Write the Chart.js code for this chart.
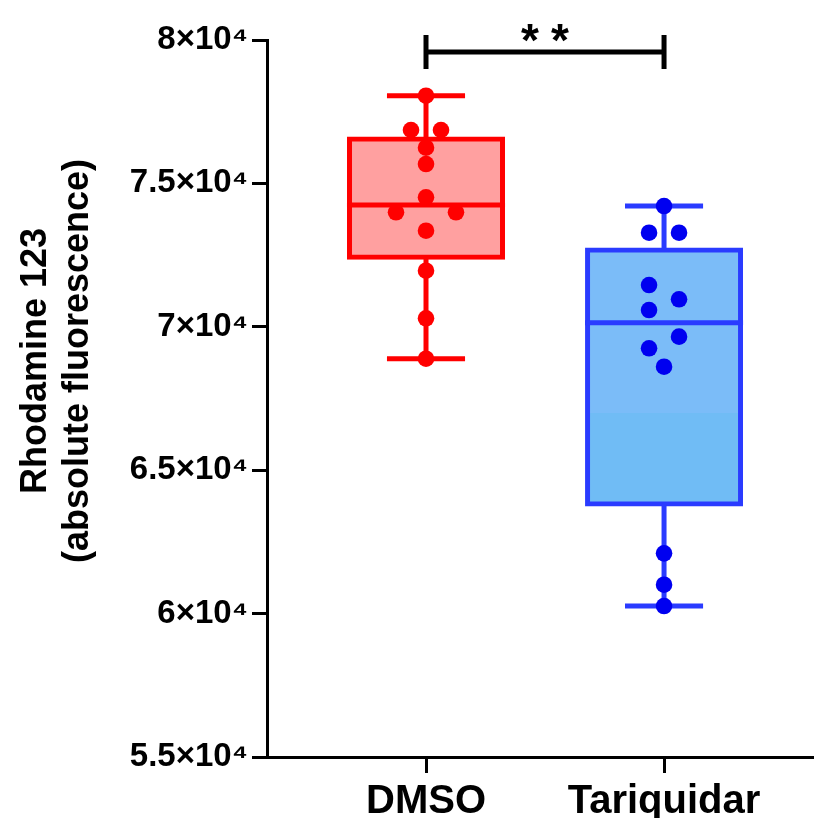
<!DOCTYPE html>
<html>
<head>
<meta charset="utf-8">
<script src="https://cdn.jsdelivr.net/npm/chart.js@4.4.1/dist/chart.umd.min.js"></script>
<style>
  html, body { margin: 0; padding: 0; background: #fff; }
  #chart { display: block; }
</style>
</head>
<body>
<canvas id="chart" width="814" height="818"></canvas>
<script>
// groups on the x axis (placed at x = 1, 2)
const groups = ['DMSO', 'Tariquidar'];

// individual points
const dmsoValues = [78058, 76862, 76862, 76245, 75676, 74514, 73992, 73992, 73350, 71956, 70296, 68887];
const tariquidarValues = [74211, 73280, 73280, 71457, 70958, 70585, 69656, 69250, 68608, 62101, 61007, 60264];

// horizontal jitter of each point, in steps
const dmsoJitter = [0, -1, 1, 0, 0, 0, -2, 2, 0, 0, 0, 0];
const tariquidarJitter = [0, -1, 1, -1, 1, -1, 1, -1, 0, 0, 0, 0];

// box statistics per group
const whiskerLow = [68887, 60264];
const quartile1 = [72422, 63820];
const medians = [74247, 70142];
const quartile3 = [76548, 72677];
const whiskerHigh = [78058, 74211];

// significance bracket
const sigLabel = '**';
const sigLine = 79582;
const sigCapTop = 80174;
const sigCapBottom = 78989;

// y axis
const yMin = 55000;
const yMax = 80000;
const yStep = 5000;
const yTitle = ['Rhodamine 123', '(absolute fluorescence)'];

const FONT = "'Liberation Sans', Arial, Helvetica, sans-serif";
const JITTER_STEP = 0.063;
const CAP_HALF = 0.164;
const BOX_HALF = 0.332;

const redLine = '#ff0000';
const blueLine = '#2a3bff';
const lineColors = [redLine, blueLine];

const toPoints = (vals, jit, cx) => vals.map((v, i) => ({ x: cx + jit[i] * JITTER_STEP, y: v }));

const whiskerPath = (i) => {
    const cx = i + 1;
    return [
        { x: cx - CAP_HALF, y: whiskerLow[i] }, { x: cx + CAP_HALF, y: whiskerLow[i] }, { x: cx, y: null },
        { x: cx, y: whiskerLow[i] }, { x: cx, y: quartile1[i] }, { x: cx, y: null },
        { x: cx, y: quartile3[i] }, { x: cx, y: whiskerHigh[i] }, { x: cx, y: null },
        { x: cx - CAP_HALF, y: whiskerHigh[i] }, { x: cx + CAP_HALF, y: whiskerHigh[i] }, { x: cx, y: null },
        { x: cx - BOX_HALF, y: medians[i] }, { x: cx + BOX_HALF, y: medians[i] }
    ];
};

const bracketPath = [
    { x: 1, y: sigCapTop }, { x: 1, y: sigCapBottom }, { x: 1, y: null },
    { x: 1, y: sigLine }, { x: 2, y: sigLine }, { x: 2, y: null },
    { x: 2, y: sigCapTop }, { x: 2, y: sigCapBottom }
];

const boxFill = (ctx) => {
    if (ctx.dataIndex === 0) return '#ffa0a0';
    const chart = ctx.chart;
    const area = chart.chartArea;
    if (!area) return '#78bbf7';
    const py = chart.scales.y.getPixelForValue(67000);
    const s = Math.min(Math.max((py - area.top) / (area.bottom - area.top), 0), 1);
    const g = chart.ctx.createLinearGradient(0, area.top, 0, area.bottom);
    g.addColorStop(0, '#7bbcf8');
    g.addColorStop(s, '#7bbcf8');
    g.addColorStop(s, '#70bcf5');
    g.addColorStop(1, '#70bcf5');
    return g;
};

const extraText = {
    id: 'extraText',
    afterDraw(chart) {
        const { ctx, scales } = chart;
        ctx.save();
        ctx.fillStyle = '#000';
        // y title
        ctx.font = `bold 36px ${FONT}`;
        ctx.textAlign = 'center';
        ctx.textBaseline = 'alphabetic';
        ctx.translate(0, 361);
        ctx.rotate(-Math.PI / 2);
        ctx.fillText(yTitle[0], 0, 46);
        ctx.fillText(yTitle[1], 0, 88);
        ctx.restore();

        // stars
        ctx.save();
        ctx.fillStyle = '#000';
        ctx.font = `bold 46px ${FONT}`;
        ctx.textAlign = 'center';
        ctx.textBaseline = 'alphabetic';
        const sx = (scales.x.getPixelForValue(1) + scales.x.getPixelForValue(2)) / 2;
        const gap = 15;
        ctx.fillText(sigLabel[0], sx - gap, 56);
        ctx.fillText(sigLabel[1], sx + gap, 56);
        ctx.restore();
    }
};

new Chart(document.getElementById('chart'), {
    type: 'scatter',
    data: {
        datasets: [
            {
                type: 'scatter',
                data: toPoints(dmsoValues, dmsoJitter, 1),
                backgroundColor: '#ff0000',
                borderWidth: 0,
                pointRadius: 8.3,
                order: 0
            },
            {
                type: 'scatter',
                data: toPoints(tariquidarValues, tariquidarJitter, 2),
                backgroundColor: '#0000f0',
                borderWidth: 0,
                pointRadius: 8.3,
                order: 0
            },
            ...groups.map((g, i) => ({
                type: 'line',
                data: whiskerPath(i),
                borderColor: lineColors[i],
                borderWidth: 5,
                pointRadius: 0,
                spanGaps: false,
                fill: false,
                borderCapStyle: 'butt',
                order: 1
            })),
            {
                type: 'line',
                data: bracketPath,
                borderColor: '#000',
                borderWidth: 5,
                pointRadius: 0,
                spanGaps: false,
                fill: false,
                clip: false,
                order: 1
            },
            {
                type: 'bar',
                data: groups.map((g, i) => ({ x: i + 1, y: [quartile1[i], quartile3[i]] })),
                backgroundColor: boxFill,
                borderColor: lineColors,
                borderWidth: 5,
                borderSkipped: false,
                inflateAmount: 2.5,
                barThickness: 153,
                order: 2
            }
        ]
    },
    options: {
        responsive: false,
        animation: false,
        events: [],
        layout: { autoPadding: false, padding: { left: 0, top: 40, right: 0, bottom: 0 } },
        plugins: { legend: { display: false }, tooltip: { enabled: false } },
        scales: {
            x: {
                type: 'linear',
                min: 0.332,
                max: 2.63,
                offset: false,
                afterBuildTicks: (axis) => { axis.ticks = groups.map((g, i) => ({ value: i + 1 })); },
                afterFit: (scale) => {
                    scale.height = 61;
                    scale.paddingLeft = 0;
                    scale.paddingRight = 0;
                },
                ticks: {
                    callback: (v) => groups[Math.round(v) - 1],
                    color: '#000',
                    font: { family: FONT, size: 40, weight: 'bold' },
                    padding: 5,
                    maxRotation: 0
                },
                grid: { drawOnChartArea: false, drawTicks: true, tickLength: 16, tickWidth: 3, tickColor: '#000', offset: false },
                border: { display: true, color: '#000', width: 3 }
            },
            y: {
                type: 'linear',
                min: yMin,
                max: yMax,
                beginAtZero: false,
                afterFit: (scale) => { scale.width = 267; },
                ticks: {
                    stepSize: yStep,
                    callback: (v) => (v / 10000) + '×10⁴',
                    color: '#000',
                    font: { family: FONT, size: 33, weight: 'bold' },
                    padding: 4
                },
                grid: { drawOnChartArea: false, drawTicks: true, tickLength: 15, tickWidth: 3, tickColor: '#000' },
                border: { display: true, color: '#000', width: 3 }
            }
        }
    },
    plugins: [extraText]
});
</script>
</body>
</html>
